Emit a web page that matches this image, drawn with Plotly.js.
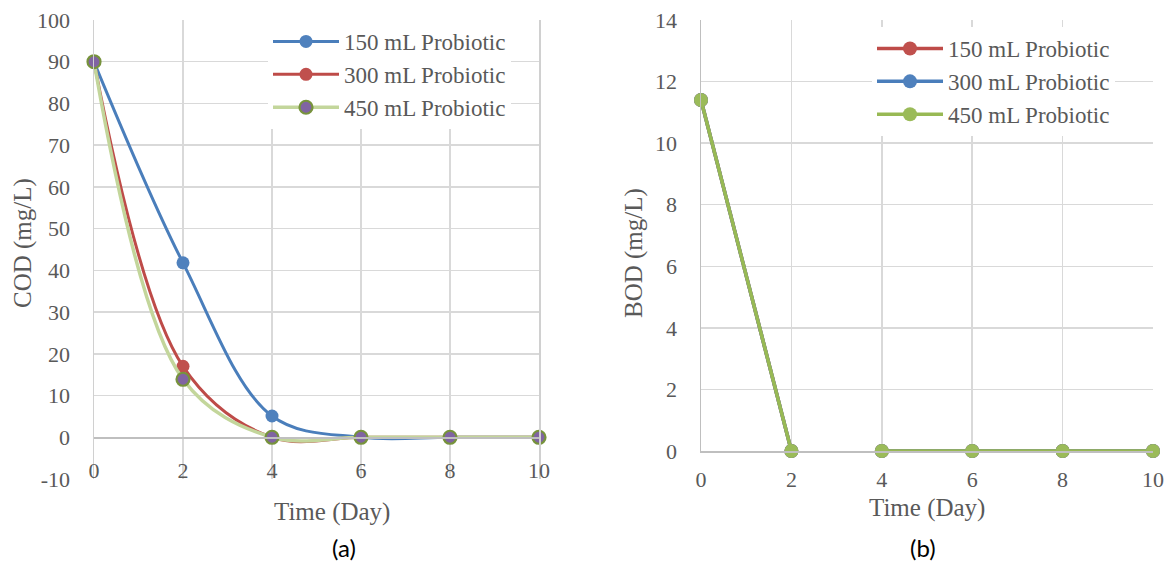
<!DOCTYPE html>
<html>
<head>
<meta charset="utf-8">
<script src="https://cdn.plot.ly/plotly-3.0.1.min.js"></script>
<style>
  html, body { margin: 0; padding: 0; background: #ffffff; }
  #chart { width: 1168px; height: 563px; }
</style>
</head>
<body>
<div id="chart"></div>
<script>
// ---- data ----
const days = [0, 2, 4, 6, 8, 10];
const seriesNames = ['150 mL Probiotic', '300 mL Probiotic', '450 mL Probiotic'];

const cod150 = [90, 41.8, 5.1, 0, 0, 0];
const cod300 = [90, 17.0, 0, 0, 0, 0];
const cod450 = [90, 13.9, 0, 0, 0, 0];

const bod150 = [11.4, 0, 0, 0, 0, 0];
const bod300 = [11.4, 0, 0, 0, 0, 0];
const bod450 = [11.4, 0, 0, 0, 0, 0];
const bodBreakAfterDay = 2;   // line is not drawn between day 2 and day 4

const codTicksY = [-10, 0, 10, 20, 30, 40, 50, 60, 70, 80, 90, 100];
const codTickText = ['-10', '0', '10', '20', '30', '40', '50', '60', '70', '80', '90', '100'];
const bodTicksY = [0, 2, 4, 6, 8, 10, 12, 14];
const dayTicks = [0, 2, 4, 6, 8, 10];

// ---- styling ----
const W = 1168, H = 563;
const serif = 'Liberation Serif';
const grey = '#595959';
const gridC = '#d9d9d9';
const axisC = '#bfbfbf';

// plot areas in px
const L = {x0: 94, x1: 539, yTop: 20, yBot: 479};
const R = {x0: 701, x1: 1153, yTop: 20, yBot: 451};
const fx = p => p / W;
const fy = p => 1 - p / H;

function withGap(xs, ys, afterX) {
  const ox = [], oy = [];
  for (let i = 0; i < xs.length; i++) {
    ox.push(xs[i]); oy.push(ys[i]);
    if (xs[i] === afterX && i < xs.length - 1) {
      ox.push((xs[i] + xs[i + 1]) / 2); oy.push(null);
    }
  }
  return {x: ox, y: oy};
}

const traces = [];
// COD (left)
traces.push({
  x: days, y: cod150, name: seriesNames[0], xaxis: 'x', yaxis: 'y', legend: 'legend',
  mode: 'lines+markers', line: {color: '#4a7ebb', width: 3, shape: 'spline', smoothing: 1},
  marker: {color: '#4f81bd', size: 13, line: {width: 0}}, cliponaxis: false
});
traces.push({
  x: days, y: cod300, name: seriesNames[1], xaxis: 'x', yaxis: 'y', legend: 'legend',
  mode: 'lines+markers', line: {color: '#be4b48', width: 3, shape: 'spline', smoothing: 1},
  marker: {color: '#c0504d', size: 13, line: {width: 0}}, cliponaxis: false
});
traces.push({
  x: days, y: cod450, name: seriesNames[2], xaxis: 'x', yaxis: 'y', legend: 'legend',
  mode: 'lines+markers', line: {color: '#c3d69b', width: 3.5, shape: 'spline', smoothing: 1},
  marker: {color: '#8064a2', size: 13, line: {width: 2.2, color: '#77933c'}}, cliponaxis: false
});
// BOD (right)
const bodColors = [['#be4b48', '#c0504d'], ['#4a7ebb', '#4f81bd'], ['#98b954', '#9bbb59']];
[bod150, bod300, bod450].forEach((vals, i) => {
  const g = withGap(days, vals, bodBreakAfterDay);
  traces.push({
    x: g.x, y: g.y, name: seriesNames[i], xaxis: 'x2', yaxis: 'y2', legend: 'legend2',
    mode: 'lines+markers', connectgaps: false,
    line: {color: bodColors[i][0], width: 3.5, shape: 'spline', smoothing: 1},
    marker: {color: bodColors[i][1], size: 14, line: {width: 0}}, cliponaxis: false
  });
});

const tickFont = {family: serif, size: 22, color: grey};

// position of y=0 for free x axis on COD
const lyDom = [fy(L.yBot), fy(L.yTop)];
const zeroFrac = lyDom[0] + (0 - (-10)) / 110 * (lyDom[1] - lyDom[0]);

const legendFont = {family: serif, size: 23, color: grey};
const titleFont = {family: serif, size: 25, color: grey};

const layout = {
  width: W, height: H,
  margin: {l: 0, r: 0, t: 0, b: 0},
  paper_bgcolor: '#ffffff', plot_bgcolor: '#ffffff',
  showlegend: true,
  xaxis: {
    domain: [fx(L.x0), fx(L.x1)], range: [0, 10], tickvals: dayTicks,
    anchor: 'free', position: zeroFrac,
    showgrid: true, gridcolor: gridC, gridwidth: 1.5, zeroline: false,
    showline: true, linecolor: axisC, linewidth: 1.5,
    ticks: '', ticklabelstandoff: 13, tickfont: tickFont, fixedrange: true
  },
  yaxis: {
    domain: lyDom, range: [-10, 100], tickvals: codTicksY, ticktext: codTickText, anchor: 'x',
    showgrid: true, gridcolor: gridC, gridwidth: 1.5,
    zeroline: true, zerolinecolor: axisC, zerolinewidth: 1.5,
    showline: true, linecolor: '#d0d0d0', linewidth: 1.5, mirror: true,
    ticks: '', ticklabelstandoff: 18, tickfont: tickFont, fixedrange: true
  },
  xaxis2: {
    domain: [fx(R.x0), fx(R.x1)], range: [0, 10], tickvals: dayTicks, anchor: 'y2',
    showgrid: true, gridcolor: gridC, gridwidth: 1.5, zeroline: false,
    showline: true, linecolor: axisC, linewidth: 1.5,
    ticks: '', ticklabelstandoff: 8, tickfont: tickFont, fixedrange: true
  },
  yaxis2: {
    domain: [fy(R.yBot), fy(R.yTop)], range: [0, 14], tickvals: bodTicksY, anchor: 'x2',
    showgrid: true, gridcolor: gridC, gridwidth: 1.5, zeroline: false,
    showline: true, linecolor: axisC, linewidth: 1.5, mirror: false,
    ticks: '', ticklabelstandoff: 18, tickfont: tickFont, fixedrange: true
  },
  legend: {
    x: fx(268), y: fy(20), xanchor: 'left', yanchor: 'top',
    bgcolor: '#ffffff', borderwidth: 0, itemwidth: 66,
    font: legendFont, tracegroupgap: 0
  },
  legend2: {
    x: fx(872), y: fy(27), xanchor: 'left', yanchor: 'top',
    bgcolor: '#ffffff', borderwidth: 0, itemwidth: 66,
    font: legendFont, tracegroupgap: 0
  },
  annotations: [
    {text: 'Time (Day)', xref: 'paper', yref: 'paper', x: fx(332), y: fy(512),
     xanchor: 'center', yanchor: 'middle', showarrow: false, font: titleFont},
    {text: 'Time (Day)', xref: 'paper', yref: 'paper', x: fx(927), y: fy(508),
     xanchor: 'center', yanchor: 'middle', showarrow: false, font: titleFont},
    {text: 'COD (mg/L)', xref: 'paper', yref: 'paper', x: fx(23), y: fy(243), textangle: -90,
     xanchor: 'center', yanchor: 'middle', showarrow: false, font: titleFont},
    {text: 'BOD (mg/L)', xref: 'paper', yref: 'paper', x: fx(634), y: fy(253), textangle: -90,
     xanchor: 'center', yanchor: 'middle', showarrow: false, font: titleFont},
    {text: '(a)', xref: 'paper', yref: 'paper', x: fx(344), y: fy(547),
     xanchor: 'center', yanchor: 'middle', showarrow: false,
     font: {family: 'Lato', size: 24, color: '#000000'}},
    {text: '(b)', xref: 'paper', yref: 'paper', x: fx(923), y: fy(547),
     xanchor: 'center', yanchor: 'middle', showarrow: false,
     font: {family: 'Lato', size: 24, color: '#000000'}}
  ]
};

Plotly.newPlot('chart', traces, layout, {displayModeBar: false, staticPlot: true});
</script>
</body>
</html>
